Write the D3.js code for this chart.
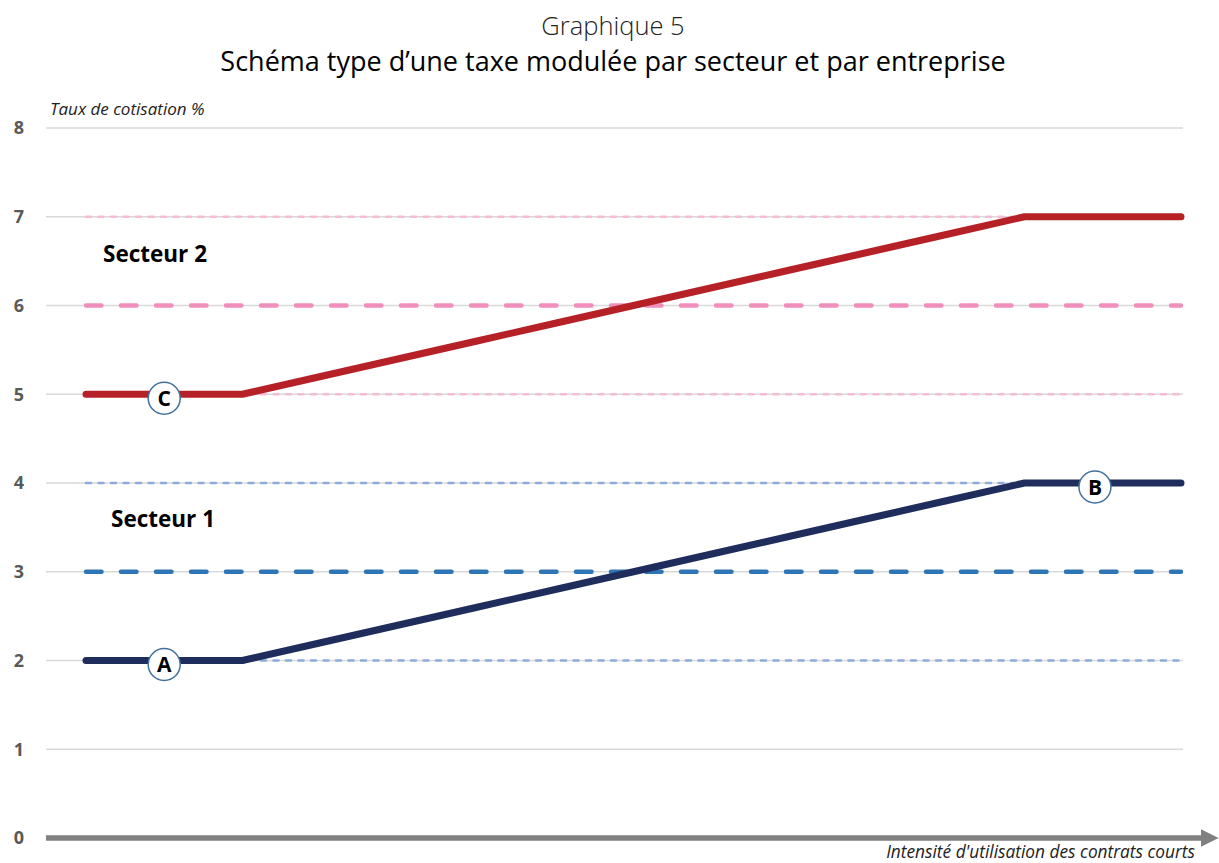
<!DOCTYPE html>
<html>
<head>
<meta charset="utf-8">
<script src="https://cdn.jsdelivr.net/npm/d3@7"></script>
<style>
  body { margin: 0; background: #fff; }
  svg { font-family: "Open Sans", Lato, sans-serif; }
</style>
</head>
<body>
<script>
// Categories along the x axis (intensity steps)
var steps = [0, 1, 2, 3, 4, 5, 6, 7, 8, 9, 10, 11, 12, 13, 14];

// Tax rate per step for each sector
var secteur1 = [2, 2, 2, 2.2, 2.4, 2.6, 2.8, 3.0, 3.2, 3.4, 3.6, 3.8, 4, 4, 4];
var secteur2 = [5, 5, 5, 5.2, 5.4, 5.6, 5.8, 6.0, 6.2, 6.4, 6.6, 6.8, 7, 7, 7];

// Reference levels (min / mean / max) per sector
var refLevels = [
  { value: 7, kind: 'pinkLight' },
  { value: 6, kind: 'pinkMain' },
  { value: 5, kind: 'pinkLight' },
  { value: 4, kind: 'blueLight' },
  { value: 3, kind: 'blueMain' },
  { value: 2, kind: 'blueLight' }
];

// Point labels: letter, step, rate
var markers = [
  { label: 'A', step: 1, value: 2 },
  { label: 'C', step: 1, value: 5 },
  { label: 'B', step: 12.9, value: 4 }
];

var yTicks = [0, 1, 2, 3, 4, 5, 6, 7, 8];

//Define the SVG Height & Width
var svgWidth = 1219;
var svgHeight = 863;

var svg = d3.select('body')
  .append('svg')
  .attr('width', svgWidth)
  .attr('height', svgHeight);

//Scales
var xScale = d3.scaleLinear()
  .domain([0, 14])
  .range([86, 1181]);
var yScale = d3.scaleLinear()
  .domain([0, 8])
  .range([838, 128]);

var gridLeft = 46, gridRight = 1183;

//Titles
svg.append('text')
  .attr('x', 613).attr('y', 35)
  .attr('text-anchor', 'middle')
  .attr('font-size', 25.5)
  .attr('font-weight', 300)
  .attr('fill', '#222')
  .text('Graphique 5');
svg.append('text')
  .attr('x', 613).attr('y', 71)
  .attr('text-anchor', 'middle')
  .attr('font-size', 27)
  .attr('fill', '#000')
  .text('Schéma type d\u2019une taxe modulée par secteur et par entreprise');

//Gridlines
svg.append('g')
  .selectAll('line')
  .data(yTicks.filter(d => d > 0))
  .enter()
  .append('line')
  .attr('x1', gridLeft).attr('x2', gridRight)
  .attr('y1', d => yScale(d)).attr('y2', d => yScale(d))
  .attr('stroke', '#d9d9d9')
  .attr('stroke-width', 1.3);

//Y axis labels
var yAxis = d3.axisLeft(yScale).tickValues(yTicks).tickSize(0).tickPadding(0);
var yAxisG = svg.append('g')
  .attr('transform', 'translate(19,0)')
  .call(yAxis);
yAxisG.select('.domain').remove();
yAxisG.selectAll('text')
  .attr('text-anchor', 'middle')
  .attr('font-family', '"Open Sans", Lato, sans-serif')
  .attr('font-size', 18)
  .attr('font-weight', 'bold')
  .attr('fill', '#595959');

svg.append('text')
  .attr('x', 50).attr('y', 115)
  .attr('font-size', 17)
  .attr('font-style', 'italic')
  .attr('fill', '#222')
  .text('Taux de cotisation %');

//Reference dashed lines
var refStyle = {
  pinkLight: { color: '#f5bcd6', width: 2.5, dash: '5,7.5' },
  pinkMain: { color: '#f08fbb', width: 4.5, dash: '15.5,19.5' },
  blueLight: { color: '#8faadc', width: 2.5, dash: '5,7.5' },
  blueMain: { color: '#2e75b6', width: 4.5, dash: '15.5,19.5' }
};
svg.append('g')
  .selectAll('line')
  .data(refLevels)
  .enter()
  .append('line')
  .attr('x1', xScale(steps[0])).attr('x2', xScale(steps[steps.length - 1]))
  .attr('y1', d => yScale(d.value)).attr('y2', d => yScale(d.value))
  .attr('stroke', d => refStyle[d.kind].color)
  .attr('stroke-width', d => refStyle[d.kind].width)
  .attr('stroke-dasharray', d => refStyle[d.kind].dash)
  .attr('stroke-linecap', 'round');

//Sector lines
var line = d3.line()
  .x((d, i) => xScale(steps[i]))
  .y(d => yScale(d));

svg.append('path')
  .datum(secteur2)
  .attr('d', line)
  .attr('fill', 'none')
  .attr('stroke', '#b52126')
  .attr('stroke-width', 7)
  .attr('stroke-linecap', 'round')
  .attr('stroke-linejoin', 'round');
svg.append('path')
  .datum(secteur1)
  .attr('d', line)
  .attr('fill', 'none')
  .attr('stroke', '#1f2d5c')
  .attr('stroke-width', 7)
  .attr('stroke-linecap', 'round')
  .attr('stroke-linejoin', 'round');

//Sector labels
svg.append('text')
  .attr('x', 103).attr('y', 262)
  .attr('font-size', 22.5).attr('font-weight', 'bold')
  .text('Secteur 2');
svg.append('text')
  .attr('x', 111).attr('y', 527)
  .attr('font-size', 22.5).attr('font-weight', 'bold')
  .text('Secteur 1');

//Markers
var mk = svg.append('g')
  .selectAll('g')
  .data(markers)
  .enter()
  .append('g')
  .attr('transform', d => `translate(${xScale(d.step)}, ${yScale(d.value) + 4})`);
mk.append('circle')
  .attr('r', 16)
  .attr('fill', '#fff')
  .attr('stroke', '#41719c')
  .attr('stroke-width', 1.5);
mk.append('text')
  .attr('text-anchor', 'middle')
  .attr('dy', 7.5)
  .attr('font-size', 21)
  .attr('font-weight', 'bold')
  .text(d => d.label);

//X axis arrow
svg.append('defs').append('marker')
  .attr('id', 'arrow')
  .attr('viewBox', '0 0 10 10')
  .attr('refX', 0).attr('refY', 5)
  .attr('markerWidth', 3.2).attr('markerHeight', 3.2)
  .attr('markerUnits', 'strokeWidth')
  .attr('orient', 'auto')
  .append('path')
  .attr('d', 'M0,0 L10,5 L0,10 Z')
  .attr('fill', '#808080');
svg.append('line')
  .attr('x1', gridLeft).attr('x2', 1201)
  .attr('y1', yScale(0)).attr('y2', yScale(0))
  .attr('stroke', '#808080')
  .attr('stroke-width', 5.5)
  .attr('marker-end', 'url(#arrow)');

svg.append('text')
  .attr('x', 1195).attr('y', 858)
  .attr('text-anchor', 'end')
  .attr('font-size', 17.3)
  .attr('font-style', 'italic')
  .attr('fill', '#222')
  .text('Intensité d\'utilisation des contrats courts');
</script>
</body>
</html>
